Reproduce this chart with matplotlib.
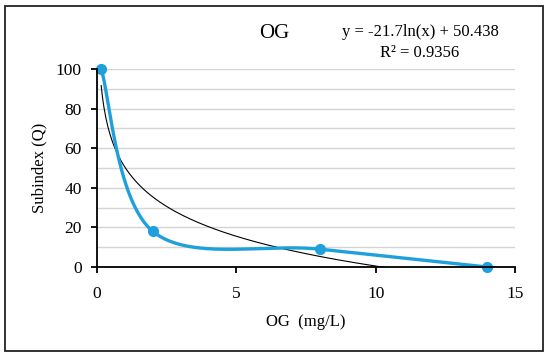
import matplotlib.pyplot as plt
from matplotlib.patches import Rectangle
from matplotlib.ticker import MultipleLocator
import numpy as np

# data
og_x = [0.15, 2, 8, 14]
subindex_q = [100, 18, 9, 0]
fit_a, fit_b = -21.7, 50.438
eq_text = "y = -21.7ln(x) + 50.438"
r2_text = "R² = 0.9356"

blue = "#1f9fdc"
plt.rcParams['font.family'] = ['Liberation Serif', 'DejaVu Serif']


def excel_smooth(ax, xs, ys, n=60):
    # bezier smoothing done in screen space, like the spreadsheet line option
    pts = ax.transData.transform(np.column_stack([xs, ys]))
    P = np.vstack([pts[0], pts, pts[-1]])
    t = np.linspace(0, 1, n)[:, None]
    segs = []
    for i in range(1, len(P) - 2):
        p0, p1, p2, p3 = P[i - 1], P[i], P[i + 1], P[i + 2]
        c1 = p1 + (p2 - p0) / 6
        c2 = p2 - (p3 - p1) / 6
        segs.append((1 - t)**3 * p1 + 3 * (1 - t)**2 * t * c1
                    + 3 * (1 - t) * t**2 * c2 + t**3 * p2)
    return ax.transData.inverted().transform(np.vstack(segs))


fig = plt.figure(figsize=(5.5, 3.59), dpi=100)
fig.patches.append(Rectangle((0.009, 0.022), 0.978, 0.961, transform=fig.transFigure,
                             fill=False, edgecolor='#222222', linewidth=1.3))

ax = fig.add_axes([0.1764, 0.2563, 0.76, 0.5515])
ax.set_xlim(0, 15)
ax.set_ylim(0, 100)
ax.xaxis.set_major_locator(MultipleLocator(5))
ax.yaxis.set_major_locator(MultipleLocator(20))
ax.yaxis.set_minor_locator(MultipleLocator(10))
ax.grid(True, axis='y', which='both', color='#d4d4d4', linewidth=1.0)
ax.set_axisbelow(True)
for s in ['top', 'right']:
    ax.spines[s].set_visible(False)
for s in ['left', 'bottom']:
    ax.spines[s].set_linewidth(1.3)
ax.tick_params(axis='both', which='major', length=4, width=1.3, labelsize=12.5)
ax.tick_params(axis='y', which='minor', length=0)
ax.tick_params(axis='y', pad=7)
ax.tick_params(axis='x', pad=10)

# log trendline
fx = np.linspace(min(og_x), max(og_x), 400)
ax.plot(fx, fit_a * np.log(fx) + fit_b, color='black', linewidth=0.8)

sm = excel_smooth(ax, og_x, subindex_q)
ax.plot(sm[:, 0], sm[:, 1], color=blue, linewidth=2.4, clip_on=False)
ax.plot(og_x, subindex_q, 'o', color=blue, markersize=7, clip_on=False)

ax.set_xlabel("OG  (mg/L)", fontsize=12, labelpad=8)
ax.set_ylabel("Subindex (Q)", fontsize=12, labelpad=6)

fig.text(274 / 550, 1 - 34 / 359, "OG", fontsize=15, ha='center', va='center')
fig.text(420 / 550, 1 - 32 / 359, eq_text, fontsize=12, ha='center', va='center')
fig.text(420 / 550, 1 - 53 / 359, r2_text, fontsize=12, ha='center', va='center')

fig.savefig("out.png", dpi=100)
